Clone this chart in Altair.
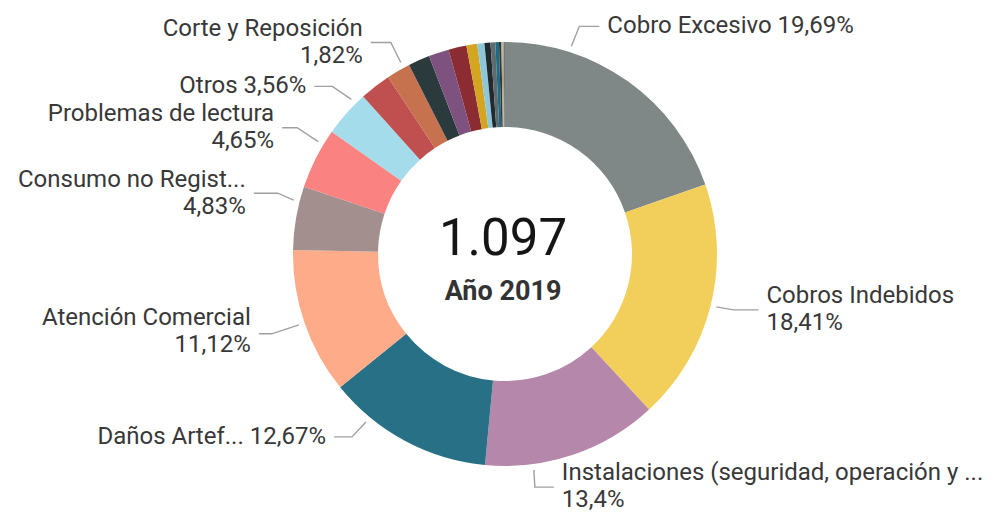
import math
import altair as alt
import pandas as pd

# ---------------- data ----------------
categories = [
    "Cobro Excesivo", "Cobros Indebidos",
    "Instalaciones (seguridad, operación y mantenimiento)", "Daños Artefactos",
    "Atención Comercial", "Consumo no Registrado", "Problemas de lectura", "Otros",
    "Categoría 9", "Corte y Reposición", "Categoría 11", "Categoría 12",
    "Categoría 13", "Categoría 14", "Categoría 15", "Categoría 16", "Categoría 17",
    "Categoría 18", "Categoría 19", "Categoría 20", "Categoría 21", "Categoría 22",
]
counts = [216, 202, 147, 139, 122, 53, 51, 39, 26, 20, 18, 17, 15, 9, 6, 5, 4, 3, 2, 1, 1, 1]
colors = ["#7F8787", "#F2CF5B", "#B487AB", "#287085", "#FDAB89", "#A38F8D", "#FA8280",
          "#A5DCEC", "#C0504F", "#C6724F", "#2B3A3C", "#7E527E", "#8B2C32", "#D3A520",
          "#8FC7DA", "#222A2E", "#5E6B70", "#1D6B82", "#30373A", "#C8A060", "#9AA5A8",
          "#6E7B7F"]
shown_index = [0, 1, 2, 3, 4, 5, 6, 7, 9]
shown_names = ["Cobro Excesivo", "Cobros Indebidos", "Instalaciones (seguridad, operación y ...",
               "Daños Artef...", "Atención Comercial", "Consumo no Regist...",
               "Problemas de lectura", "Otros", "Corte y Reposición"]
subtitle = "Año 2019"

# ---------------- layout / style ----------------
W, H = 986, 506
CX, CY = 497, 246
R_OUT, R_IN, R_LEAD = 212, 127, 218
FONT = "Roboto"
# anchor fraction in slice, elbow dx, elbow dy, segment, side, one line, text shift, row gap
label_layout = [
    (0.25, 8, -20, 20, "right", True, 0, 0),
    (0.50, 17, 3, 25, "right", False, 0, 27),
    (0.73, 1, 17, 19, "right", False, -1, 27),
    (0.75, -14, 15, 18, "left", True, 0, 0),
    (0.50, -27, 9, 13, "left", False, -2, 27),
    (0.76, -16, -7, 24, "left", False, 0, 27),
    (0.75, -21, -14, 15, "left", False, 0, 27),
    (0.78, -19, -13, 18, "left", True, 0, 0),
    (0.75, -10, -20, 20, "left", False, 0, 27),
]

total = sum(counts)
starts = []
acc = 0
for c in counts:
    starts.append(acc)
    acc += c


def pct_text(c):
    s = f"{100 * c / total:.2f}".rstrip("0").rstrip(".")
    return s.replace(".", ",") + "%"


slices = pd.DataFrame({"cat": categories, "n": counts, "i": list(range(len(counts)))})

line_rows, text_rows = [], []
for k, (idx, name) in enumerate(zip(shown_index, shown_names)):
    frac, dx, dy, seg, side, one, tshift, gap = label_layout[k]
    a = 2 * math.pi * (starts[idx] + frac * counts[idx]) / total
    x0 = CX + R_LEAD * math.sin(a)
    y0 = CY - R_LEAD * math.cos(a)
    x1, y1 = x0 + dx, y0 + dy
    sgn = 1 if side == "right" else -1
    x2, y2 = x1 + sgn * seg, y1
    for o, (px, py) in enumerate([(x0, y0), (x1, y1), (x2, y2)]):
        line_rows.append({"lab": name, "ord": o, "x": px, "y": py})
    tx = x2 + sgn * 8
    p = pct_text(counts[idx])
    if one:
        text_rows.append({"x": tx, "y": y2 + tshift, "t": f"{name} {p}", "side": side})
    else:
        text_rows.append({"x": tx, "y": y2 - gap / 2 + tshift, "t": name, "side": side})
        text_rows.append({"x": tx, "y": y2 + gap / 2 + tshift, "t": p, "side": side})

lines_df = pd.DataFrame(line_rows)
text_df = pd.DataFrame(text_rows)

xs = alt.Scale(domain=[0, W], nice=False, zero=False)
ys = alt.Scale(domain=[0, H], reverse=True, nice=False, zero=False)

arc = alt.Chart(slices).mark_arc(innerRadius=R_IN, outerRadius=R_OUT).encode(
    theta=alt.Theta("n:Q", stack=True),
    order=alt.Order("i:Q"),
    color=alt.Color("cat:N", scale=alt.Scale(domain=categories, range=colors), legend=None),
    x=alt.value(CX),
    y=alt.value(CY),
)

leaders = alt.Chart(lines_df).mark_line(color="#a0a0a0", strokeWidth=1.4).encode(
    x=alt.X("x:Q", scale=xs, axis=None),
    y=alt.Y("y:Q", scale=ys, axis=None),
    detail="lab:N",
    order="ord:Q",
)

txt_r = alt.Chart(text_df[text_df.side == "right"]).mark_text(
    align="left", baseline="middle", font=FONT, fontSize=24, color="#383838"
).encode(x=alt.X("x:Q", scale=xs, axis=None), y=alt.Y("y:Q", scale=ys, axis=None), text="t:N")

txt_l = alt.Chart(text_df[text_df.side == "left"]).mark_text(
    align="right", baseline="middle", font=FONT, fontSize=24, color="#383838"
).encode(x=alt.X("x:Q", scale=xs, axis=None), y=alt.Y("y:Q", scale=ys, axis=None), text="t:N")

center_df = pd.DataFrame({"big": [f"{total:,}".replace(",", ".")], "sub": [subtitle]})
big = alt.Chart(center_df).mark_text(
    align="center", baseline="alphabetic", font=FONT, fontSize=51, color="#151515"
).encode(x=alt.value(CX - 2), y=alt.value(247), text="big:N")
sub = alt.Chart(center_df).mark_text(
    align="center", baseline="alphabetic", font=FONT, fontSize=27, fontWeight="bold",
    color="#333333"
).encode(x=alt.value(CX - 2), y=alt.value(292), text="sub:N")

chart = alt.layer(arc, leaders, txt_r, txt_l, big, sub).properties(
    width=W, height=H, padding=0, autosize=alt.AutoSizeParams(type="none")
).configure_view(stroke=None)

chart.save("out.html", embed_options={"renderer": "svg", "actions": False})
